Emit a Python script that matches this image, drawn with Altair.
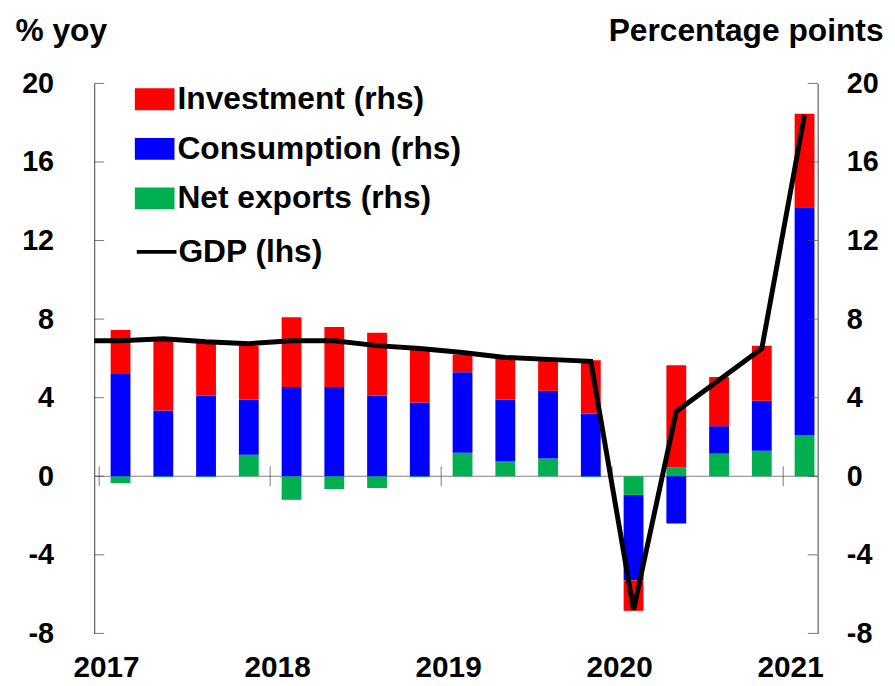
import json
import altair as alt
import pandas as pd

# ---------------- data ----------------
quarters = ["2017Q1", "2017Q2", "2017Q3", "2017Q4",
            "2018Q1", "2018Q2", "2018Q3", "2018Q4",
            "2019Q1", "2019Q2", "2019Q3", "2019Q4",
            "2020Q1", "2020Q2", "2020Q3", "2020Q4",
            "2021Q1"]
net_exports = [-0.35, -0.05, -0.05, 1.1, -1.2, -0.65, -0.6, -0.05,
               1.2, 0.75, 0.9, -0.05, -0.95, 0.45, 1.15, 1.3, 2.1]
consumption = [5.2, 3.35, 4.1, 2.8, 4.55, 4.55, 4.1, 3.75,
               4.1, 3.15, 3.45, 3.2, -4.35, -2.4, 1.4, 2.55, 11.6]
investment = [2.25, 3.65, 2.75, 2.75, 3.55, 3.05, 3.2, 2.7,
              0.9, 2.15, 1.55, 2.7, -1.55, 5.2, 2.5, 2.8, 4.75]

gdp_quarters = ["2016Q4"] + quarters
gdp = [6.9, 6.9, 7.0, 6.85, 6.75, 6.9, 6.9, 6.65, 6.5,
       6.3, 6.05, 5.95, 5.85, -6.8, 3.3, 4.9, 6.5, 18.4]

years = ["2017", "2018", "2019", "2020", "2021"]
y_ticks = [-8, -4, 0, 4, 8, 12, 16, 20]

bar_series = ["Investment (rhs)", "Consumption (rhs)", "Net exports (rhs)"]
bar_colors = ["#FF0000", "#0000FF", "#00B050"]
line_series = ["GDP (lhs)"]
line_colors = ["#000000"]

# ---------------- tables ----------------
def qpos(q):
    return (int(q[:4]) - 2017) * 4 + int(q[-1]) - 1 + 0.5

rows = []
for q, nx, c, inv in zip(quarters, net_exports, consumption, investment):
    rows.append({"pos": qpos(q), "series": bar_series[2], "value": nx, "ord": 0})
    rows.append({"pos": qpos(q), "series": bar_series[1], "value": c, "ord": 1})
    rows.append({"pos": qpos(q), "series": bar_series[0], "value": inv, "ord": 2})
bars_df = pd.DataFrame(rows)

line_df = pd.DataFrame({"pos": [qpos(q) for q in gdp_quarters], "gdp": gdp,
                        "series": line_series[0]})
year_df = pd.DataFrame({"pos": [4 * i for i in range(len(years))], "zero": 0})
tick_df = pd.DataFrame({"t": y_ticks})
zero_df = pd.DataFrame({"v": [0]})

F = "Liberation Sans"
AX = "#404040"

xs = alt.Scale(domain=[0, 16.69], nice=False, zero=False)
ys = alt.Scale(domain=[-8, 20], nice=False, zero=False)

year_expr = json.dumps(years) + "[round(datum.value/4)]"

common_leg = dict(
    title=None, orient="none", direction="vertical",
    labelFont=F, labelFontSize=32, labelFontWeight="bold", labelColor="black",
    labelLimit=500, rowPadding=14, padding=0, symbolSize=1600,
)
bar_legend = alt.Legend(legendX=41, legendY=-4, labelOffset=3,
                        symbolType="M-1,-0.55H1V0.55H-1Z",
                        symbolStrokeWidth=0, symbolOpacity=1, **common_leg)
line_legend = alt.Legend(legendX=41, legendY=148, labelOffset=0, symbolType="stroke",
                         symbolStrokeWidth=4, **common_leg)

zero = alt.Chart(zero_df).mark_rule(color="#808080", strokeWidth=1).encode(
    y=alt.Y("v:Q", scale=ys, axis=None)
)

bars = alt.Chart(bars_df).mark_bar(size=20).encode(
    x=alt.X("pos:Q", scale=xs, axis=alt.Axis(
        values=[4 * i for i in range(len(years))], labelExpr=year_expr,
        domain=False, ticks=False, grid=False, title=None,
        labelFont=F, labelFontSize=30, labelFontWeight="bold", labelColor="black",
        labelPadding=19, labelOffset=7, labelFlush=False, labelOverlap=False)),
    y=alt.Y("value:Q", scale=ys, stack="zero", axis=alt.Axis(
        orient="right", values=y_ticks, ticks=False, grid=False,
        domainColor=AX, domainWidth=1, labelExpr="'' + datum.value",
        labelFont=F, labelFontSize=29, labelFontWeight="bold", labelColor="black",
        labelPadding=29, labelAlign="left",
        title="Percentage points", titleAngle=0, titleAlign="right",
        titleBaseline="alphabetic", titleX=66, titleY=-43,
        titleFont=F, titleFontSize=32, titleFontWeight="bold", titleColor="black")),
    color=alt.Color("series:N", scale=alt.Scale(domain=bar_series, range=bar_colors),
                    legend=bar_legend),
    order=alt.Order("ord:Q"),
)

year_ticks = alt.Chart(year_df).mark_tick(orient="vertical", size=20, thickness=1, color=AX).encode(
    x=alt.X("pos:Q", scale=xs, axis=None),
    y=alt.Y("zero:Q", scale=ys, axis=None),
)

line = alt.Chart(line_df).mark_line(strokeWidth=5, clip=True).encode(
    x=alt.X("pos:Q", scale=xs, axis=None),
    y=alt.Y("gdp:Q", scale=ys, axis=alt.Axis(
        orient="left", values=y_ticks, ticks=False, grid=False,
        domainColor=AX, domainWidth=1, labelExpr="'' + datum.value",
        labelFont=F, labelFontSize=29, labelFontWeight="bold", labelColor="black",
        labelPadding=41, labelAlign="right",
        title="% yoy", titleAngle=0, titleAlign="left",
        titleBaseline="alphabetic", titleX=-80, titleY=-43,
        titleFont=F, titleFontSize=32, titleFontWeight="bold", titleColor="black")),
    stroke=alt.Stroke("series:N", scale=alt.Scale(domain=line_series, range=line_colors),
                      legend=line_legend),
)

left_ticks = alt.Chart(tick_df).mark_tick(orient="horizontal", size=10, thickness=1, color=AX).encode(
    y=alt.Y("t:Q", scale=ys, axis=None), x=alt.value(5)
)
right_ticks = alt.Chart(tick_df).mark_tick(orient="horizontal", size=10, thickness=1, color=AX).encode(
    y=alt.Y("t:Q", scale=ys, axis=None), x=alt.value(725)
)

chart = alt.layer(zero, bars, year_ticks, line, left_ticks, right_ticks).resolve_axis(
    y="independent", x="independent"
).properties(
    width=730, height=555,
    autosize=alt.AutoSizeParams(type="none"),
    padding={"left": 87, "top": 73, "right": 70, "bottom": 50},
    background="white",
).configure_view(stroke=None)

chart.save("out.html", embed_options={"renderer": "svg", "actions": False})
